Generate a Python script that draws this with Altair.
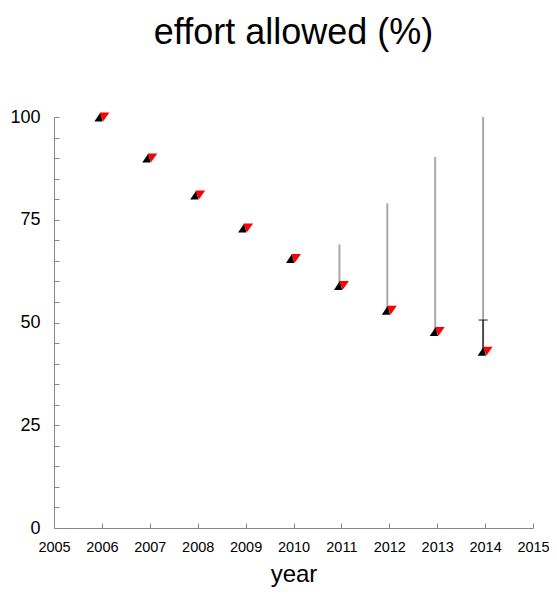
import altair as alt
import pandas as pd

years = [2006, 2007, 2008, 2009, 2010, 2011, 2012, 2013, 2014]
effort = [100, 90, 81, 73, 65.6, 59, 53, 47.8, 43]
range_years = [2011, 2012, 2013, 2014]
range_low = [59, 53, 47.8, 43]
range_high = [69, 79, 90.3, 100]
bar_year = [2014]
bar_low = [43]
bar_high = [50.6]
x_ticks = list(range(2005, 2016))
y_labels = [0, 25, 50, 75, 100]
y_ticks = list(range(0, 101, 5))

pts = pd.DataFrame({"year": years, "effort": effort})
rng = pd.DataFrame({"year": range_years, "low": range_low, "high": range_high})
bar = pd.DataFrame({"year": bar_year, "low": bar_low, "high": bar_high})

W, H = 479, 411
FONT = "Liberation Sans"
AX = "#888888"
xs = alt.Scale(domain=[2005, 2015], nice=False, zero=False)
ys = alt.Scale(domain=[0, 100], nice=False)

x_main = alt.Axis(values=x_ticks, format="d", labelFontSize=14.5, labelPadding=12,
                  labelFlush=False, labelOverlap=False,
                  labelFont=FONT, labelColor="#000000", domainColor=AX, ticks=False,
                  grid=False, title="year", titleFontSize=24, titleFont=FONT,
                  titleFontWeight="normal", titleColor="#000000", titlePadding=9)
y_main = alt.Axis(values=y_labels, labelFontSize=18, labelPadding=14, labelFont=FONT,
                  labelFlush=False,
                  labelColor="#000000", domainColor=AX, ticks=False, grid=False, title=None)
x_tick_axis = alt.Axis(orient="top", offset=-H, values=x_ticks, labels=False, domain=False,
                       ticks=True, tickSize=5, tickColor=AX, grid=False, title=None)
y_tick_axis = alt.Axis(orient="right", offset=-W, values=y_ticks, labels=False, domain=False,
                       ticks=True, tickSize=5, tickColor=AX, grid=False, title=None)

gray = alt.Chart(rng).mark_rule(color="#a8a8a8", strokeWidth=2, xOffset=-2).encode(
    x=alt.X("year:Q", scale=xs, axis=x_main),
    y=alt.Y("low:Q", scale=ys, axis=y_main),
    y2="high:Q",
)
tickl = alt.Chart(pts).mark_point(opacity=0).encode(
    x=alt.X("year:Q", scale=xs, axis=x_tick_axis),
    y=alt.Y("effort:Q", scale=ys, axis=y_tick_axis),
)
blackbar = alt.Chart(bar).mark_rule(color="#333333", strokeWidth=1.5, xOffset=-2).encode(
    x=alt.X("year:Q", scale=xs, axis=None),
    y=alt.Y("low:Q", scale=ys, axis=None),
    y2="high:Q",
)
cap = alt.Chart(bar).mark_tick(orient="horizontal", color="#222222", thickness=1.5, size=9,
                               xOffset=-2).encode(
    x=alt.X("year:Q", scale=xs, axis=None),
    y=alt.Y("high:Q", scale=ys, axis=None),
)
black_path = "M-1,0.6 L0.1,0.6 L-0.2,-0.6 Z"
red_path = "M-0.25,-0.6 L1,-0.6 L0.15,0.6 Z"
btri = alt.Chart(pts).mark_point(shape=black_path, filled=True, size=225, color="#000000",
                                 opacity=1, strokeWidth=0).encode(
    x=alt.X("year:Q", scale=xs, axis=None),
    y=alt.Y("effort:Q", scale=ys, axis=None),
)
rtri = alt.Chart(pts).mark_point(shape=red_path, filled=True, size=225, color="#ff0000",
                                 opacity=1, strokeWidth=0).encode(
    x=alt.X("year:Q", scale=xs, axis=None),
    y=alt.Y("effort:Q", scale=ys, axis=None),
)

chart = alt.layer(gray, tickl, blackbar, cap, btri, rtri).resolve_axis(
    x="independent", y="independent"
).properties(
    width=W, height=H,
    title=alt.Title("effort allowed (%)", fontSize=36, font=FONT, fontWeight="normal",
                    color="#000000", anchor="middle", frame="group", offset=56),
    autosize=alt.AutoSizeParams(type="none"),
    padding={"left": 46, "top": 109, "right": 16, "bottom": 62},
).configure_view(stroke=None)

chart.save("out.html", embed_options={"renderer": "svg", "actions": False})
